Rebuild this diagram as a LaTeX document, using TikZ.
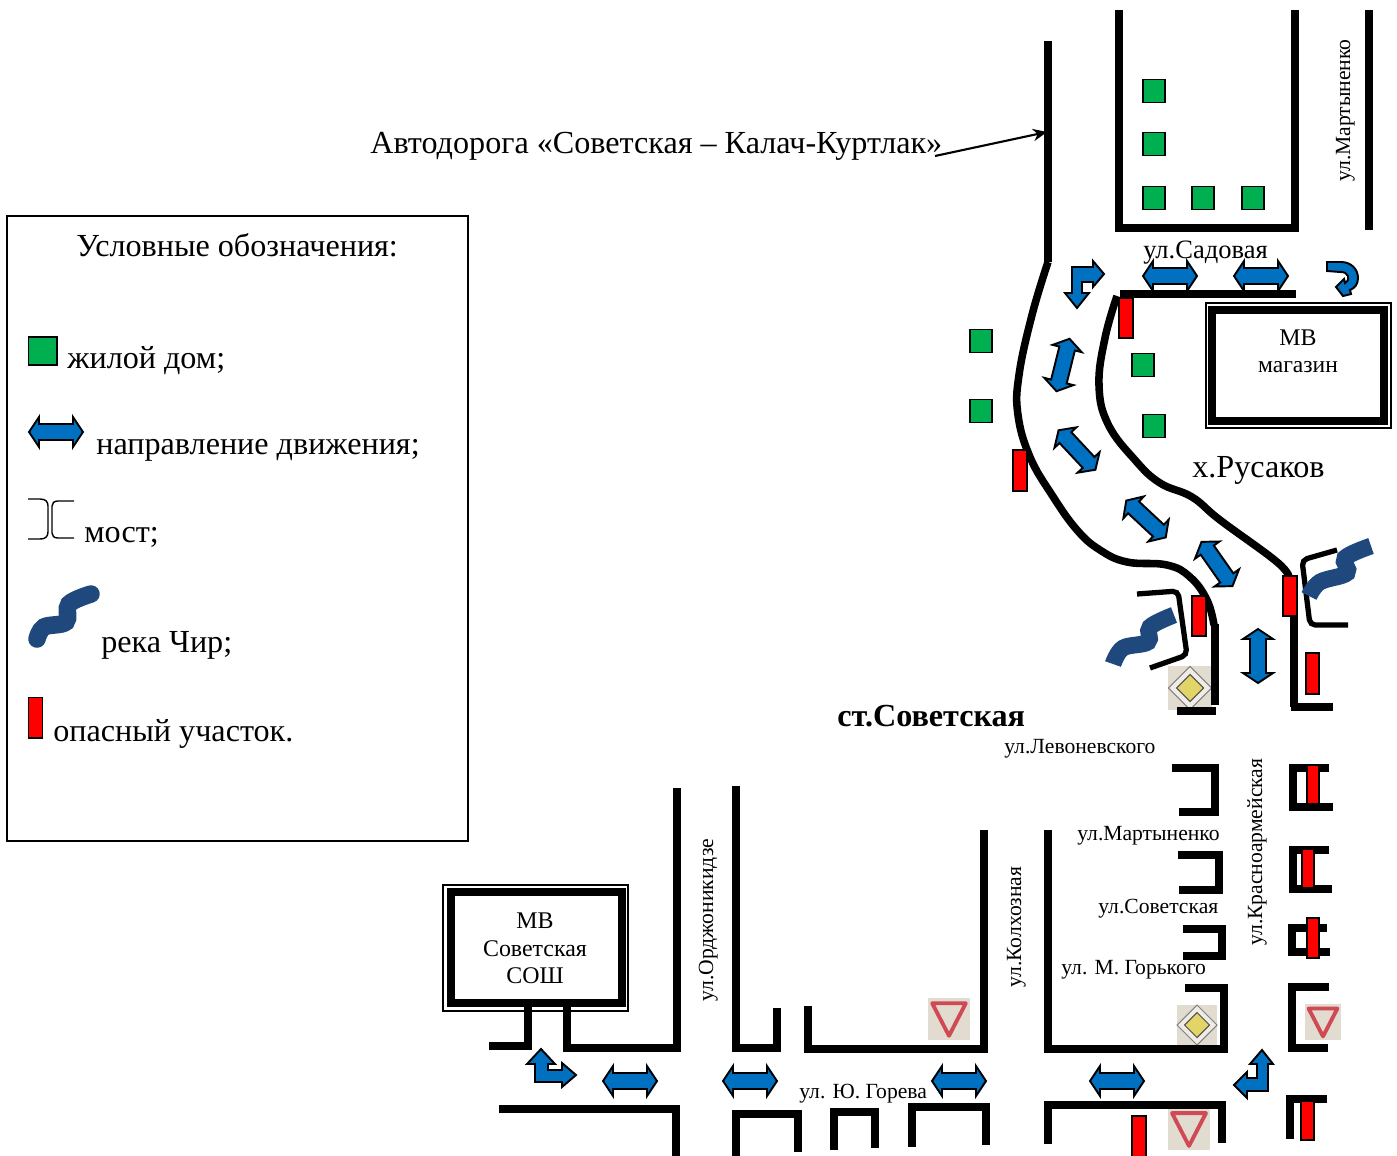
\documentclass[tikz,border=0pt]{standalone}
\usepackage{fontspec}
\usetikzlibrary{arrows.meta}
\setmainfont{Liberation Serif}
\definecolor{housegreen}{HTML}{00B050}
\definecolor{arrowblue}{HTML}{0070C0}
\definecolor{riverblue}{HTML}{1F497D}
\definecolor{signbg}{HTML}{E2DBD0}
\definecolor{signred}{HTML}{CF4A55}
\definecolor{signyellow}{HTML}{E3D468}
\begin{document}
\begin{tikzpicture}[x=0.02cm,y=-0.02cm]
\tikzset{
    road/.style={line width=4.3pt, black, miter limit=4},
    bridge/.style={line width=3pt, black, rounded corners=3pt},
    thinframe/.style={line width=.8pt, black},
    river/.style={line width=9.5pt, riverblue},
    danger/.style={fill=red, draw=black, line width=.9pt},
    house/.style={fill=housegreen, draw=black, line width=.9pt},
    arrowshape/.style={fill=arrowblue, draw=black, line width=1.1pt, line join=miter},
    big/.style={font=\fontsize{18.3}{21}\selectfont, inner sep=0pt, anchor=base west},
    mid/.style={font=\fontsize{13.6}{16}\selectfont, inner sep=0pt},
    small/.style={font=\fontsize{12.3}{15}\selectfont, inner sep=0pt, anchor=base west},
    dirarrow/.pic={
        \draw[arrowshape] (-27,0)--(-17,-15)--(-17,-8)--(17,-8)--(17,-15)--(27,0)
            --(17,15)--(17,8)--(-17,8)--(-17,15)--cycle;
    },
    yieldsign/.pic={
        \fill[signbg] (-20,-20) rectangle (20,20);
        \draw[signred, line width=2.2pt, line join=round] (-16,-15)--(16,-15)--(0,16)--cycle;
    },
    prioritysign/.pic={
        \fill[signbg] (-20,-20) rectangle (20,20);
        \draw[black!50, line width=.6pt, fill=white!45!signbg] (-20,0)--(0,-20)--(20,0)--(0,20)--cycle;
        \draw[black!70, line width=.6pt, fill=signyellow] (-12.5,0)--(0,-12.5)--(12.5,0)--(0,12.5)--cycle;
    }
}
\useasboundingbox (0,0) rectangle (1397,1156);

\draw[thinframe, line width=1.1pt] (7,216) rectangle (468,841);
\node[big] (legendtitle) at (76,256) {Условные обозначения:};
\draw[house] (28.5,337) rectangle (57,365);
\node[big] (legendhouse) at (67,368) {жилой дом;};
\pic at (56,432) {dirarrow};
\node[big] (legendarrow) at (96,454) {направление движения;};
\draw[line width=.8pt] (28,499)--(40,499) .. controls (46,499) and (48,502) .. (48,506)--(48,532)
    .. controls (48,537) and (45,539) .. (40,539)--(28,539);
\draw[line width=.8pt] (74,501)--(58,501) .. controls (54,501) and (52,503) .. (52,506)--(52,533)
    .. controls (52,536) and (54,538) .. (58,538)--(74,538);
\node[big] (legendbridge) at (84,542) {мост;};
\draw[river, line width=10pt, line cap=round] plot[smooth, tension=.6] coordinates
    {(37,639) (44,627) (66,622) (69,604) (91,594)};
\node[big] (legendriver) at (101,652) {река Чир;};
\draw[danger] (28.5,697.5) rectangle (42.5,738);
\node[big] (legenddanger) at (53,741) {опасный участок.};

\node[big] (highway) at (370,153) {Автодорога «Советская – Калач-Куртлак»};
\coordinate (highwayfrom) at (935,156);
\coordinate (highwayto) at (1047,132);
\draw[line width=1.2pt, -{Stealth[length=8pt,width=7pt]}] (highwayfrom)--(highwayto);

\pic[scale=1.05] at (949,1019) {yieldsign};
\pic[scale=.9] at (1323,1022) {yieldsign};
\pic[scale=1.06] at (1189,1129) {yieldsign};
\pic[scale=1.08] at (1190,688) {prioritysign};
\pic[scale=1] at (1197,1025) {prioritysign};

\draw[road] (1048,41)--(1048,262);
\draw[road] (1119,10)--(1119,228)--(1295,228)--(1295,10);
\draw[road] (1369,10)--(1369,230);
\draw[road] (1120,294)--(1296,294);
\draw[road] plot[smooth, tension=.7] coordinates
    {(1048,262) (1032,315) (1019,375) (1018,415) (1030,457) (1052,495) (1077,530) (1100,550) (1127,562) (1167,565) (1190,577) (1207,600) (1214,625)};
\draw[road] (1215,624)--(1215,705);
\draw[road] (1177,711)--(1216,711);
\draw[road] plot[smooth, tension=.7] coordinates
    {(1117,296) (1105,338) (1099,385) (1108,424) (1135,460) (1160,483) (1192,497) (1220,520) (1277,562) (1289,578)};
\draw[road] (1294,578)--(1294,707);
\draw[road] (1291,707)--(1333,707);

\draw[bridge] (1137,594)--(1178,591)--(1187,655)--(1150,668);
\draw[bridge] (1337,550)--(1302,560)--(1310,625)--(1348,625);
\draw[river] plot[smooth, tension=.6] coordinates
    {(1113,664) (1123,648) (1148,642) (1150,627) (1174,615)};
\draw[river] plot[smooth, tension=.6] coordinates
    {(1309,596) (1320,582) (1347,573) (1345,558) (1371,546)};

\foreach \x/\y in {1154/91,1154/144,1154/198,1203/198,1253/198,981/341,981/411,1143/365,1154/426}{
    \draw[house] (\x,\y)++(-11,-11.5) rectangle ++(22,23);
}

\draw[thinframe] (1206,303) rectangle (1391,428);
\draw[road] (1212,310) rectangle (1384,421);
\node[mid] (shopname) at (1298,338) {МВ};
\node[mid, font=\fontsize{13.4}{16}\selectfont] (shoptext) at (1298,367) {магазин};

\draw[thinframe] (443,885) rectangle (628,1011);
\draw[road] (451,892) rectangle (622,1003);
\node[mid] (schoola) at (535,921) {МВ};
\node[mid] (schoolb) at (535,949) {Советская};
\node[mid] (schoolc) at (535,976) {СОШ};

\draw[road] (528,1005)--(528,1046)--(489,1046);
\draw[road] (567,1005)--(567,1048)--(677,1048)--(677,788);
\draw[road] (736,786)--(736,1048)--(777,1048)--(777,1008);
\draw[road] (808,1006)--(808,1049)--(984,1049)--(984,830);
\draw[road] (1048,830)--(1048,1049)--(1224,1049)--(1224,988)--(1185,988);
\draw[road] (499,1109)--(676,1109)--(676,1156);
\draw[road] (736,1156)--(736,1114)--(798,1114)--(798,1152);
\draw[road] (834,1150)--(834,1112)--(875,1112)--(875,1148);
\draw[road] (912,1147)--(912,1107)--(986,1107)--(986,1145);
\draw[road] (1048,1144)--(1048,1105)--(1222,1105)--(1222,1143);
\draw[road] (1172,768)--(1215,768)--(1215,812)--(1179,812);
\draw[road] (1178,855)--(1219,855)--(1219,890)--(1179,890);
\draw[road] (1183,929)--(1222,929)--(1222,956)--(1183,956);
\draw[road] (1329,768)--(1293,768)--(1293,807)--(1333,807);
\draw[road] (1329,850)--(1293,850)--(1293,889)--(1332,889);
\draw[road] (1327,928)--(1292,928)--(1292,952)--(1330,952);
\draw[road] (1329,987)--(1292,987)--(1292,1048)--(1328,1048);
\draw[road] (1327,1099)--(1290,1099)--(1290,1139);

\foreach \xa/\ya/\xb/\yb in {1119/298/1133/338,1013/450/1027/491,1192/596/1206/636,1283/576/1297/616,
    1306/653/1319/694,1307/765/1319/804,1302/849/1314/888,1307/918/1319/958,1301/1101/1314/1140,1132/1116/1146/1158}{
    \draw[danger] (\xa,\ya) rectangle (\xb,\yb);
}

\foreach \x/\y/\a in {1170/276/0,1261/276/0,630/1081/0,750/1081/0,959/1081/0,1117/1081/0,
    1063/365/76,1077/450/-47,1146/519/-43,1217/564/-55,1258/656/90}{
    \pic[rotate=\a] at (\x,\y) {dirarrow};
}

\draw[arrowshape] (1104,274)--(1093,261)--(1093,267)--(1072,267)--(1072,293)--(1065,293)--(1077,308)
    --(1089,293)--(1082,293)--(1082,282)--(1093,282)--(1093,287)--cycle;
\draw[arrowshape] (1327,262)--(1341,262) .. controls (1351,262) and (1358,269) .. (1358,278)
    .. controls (1358,284) and (1355,288) .. (1350,290)--(1351,294)--(1343,296)--(1336,287)--(1344,279)--(1345,283)
    .. controls (1348,281) and (1349,279) .. (1348,276) .. controls (1347,273) and (1344,272) .. (1340,272)--(1327,271)--cycle;
\draw[arrowshape] (541,1049)--(555,1064)--(548,1064)--(548,1070)--(562,1070)--(562,1063)--(576,1075)
    --(562,1087)--(562,1082)--(535,1082)--(535,1064)--(527,1064)--cycle;
\draw[arrowshape] (1262,1050)--(1273,1064)--(1268,1064)--(1268,1091)--(1247,1091)--(1247,1098)--(1234,1085)
    --(1247,1072)--(1247,1078)--(1257,1078)--(1257,1064)--(1250,1064)--cycle;

\node[small, font=\fontsize{15.1}{18}\selectfont] (sadovaya) at (1143,258) {ул.Садовая};
\node[big] (rusakov) at (1192,477) {х.Русаков};
\node[big, font=\fontsize{18.3}{21}\selectfont\bfseries] (sovetskaya) at (837,726) {ст.Советская};
\node[small] (levonevsky) at (1004,753) {ул.Левоневского};
\node[small] (martynenko) at (1077,840) {ул.Мартыненко};
\node[small] (sovstreet) at (1098,913) {ул.Советская};
\node[small] (gorky) at (1061,974) {ул. М. Горького};
\node[small] (goreva) at (799,1098) {ул. Ю. Горева};
\node[small, rotate=90] (martynenkotop) at (1350,182) {ул.Мартыненко};
\node[small, rotate=90] (ordzhonikidze) at (713,1002) {ул.Орджоникидзе};
\node[small, rotate=90] (kolkhoz) at (1021,988) {ул.Колхозная};
\node[small, rotate=90] (krasnoarm) at (1262,946) {ул.Красноармейская};
\end{tikzpicture}
\end{document}
